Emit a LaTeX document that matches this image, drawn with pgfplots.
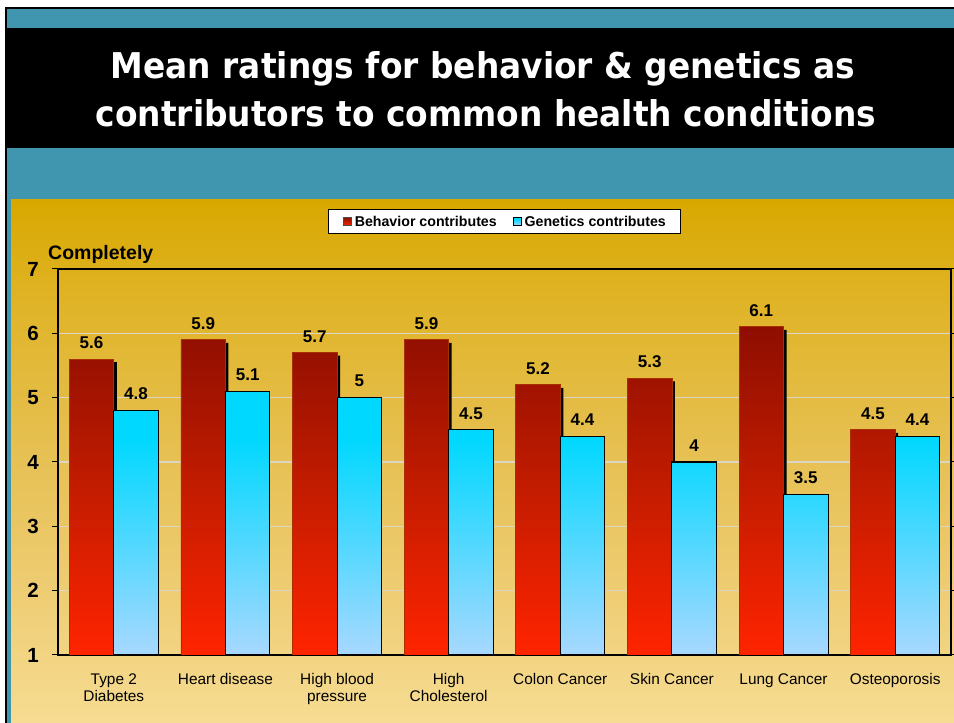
\documentclass[border=0pt]{standalone}
\usepackage{fontspec}
\usepackage{pgfplots}
\pgfplotsset{compat=1.18}
\setmainfont{Liberation Sans}
\newfontfamily\titlefont{DejaVu Sans}[BoldFont={DejaVu Sans Bold}]

\definecolor{slideteal}{HTML}{4196AF}
\definecolor{goldA}{HTML}{D8A800}
\definecolor{goldB}{HTML}{E0B428}
\definecolor{goldC}{HTML}{E6C052}
\definecolor{goldD}{HTML}{EECC72}
\definecolor{goldE}{HTML}{F6DC92}
\definecolor{redTop}{HTML}{8E0E00}
\definecolor{redMid}{HTML}{C41C00}
\definecolor{redBot}{HTML}{FF2400}
\definecolor{redEdge}{HTML}{A83000}
\definecolor{cyTop}{HTML}{00D8FF}
\definecolor{cyBot}{HTML}{A8D8FF}
\definecolor{gridc}{HTML}{DCD4C4}
\definecolor{legred}{HTML}{C82800}
\definecolor{legcy}{HTML}{40D4F8}

% background of the chart area: deep gold fading to pale gold
\pgfdeclareverticalshading{goldbg}{100bp}{%
  color(0bp)=(goldE); color(25bp)=(goldE); color(38bp)=(goldD);
  color(51bp)=(goldC); color(65bp)=(goldB); color(75bp)=(goldA);
  color(100bp)=(goldA)}
% bar fills, bottom (25bp) to top (75bp)
\pgfdeclareverticalshading{redbar}{100bp}{%
  color(0bp)=(redBot); color(25bp)=(redBot); color(50bp)=(redMid);
  color(75bp)=(redTop); color(100bp)=(redTop)}
\pgfdeclareverticalshading{cyanbar}{100bp}{%
  color(0bp)=(cyBot); color(25bp)=(cyBot); color(66bp)=(cyTop);
  color(100bp)=(cyTop)}

\pgfplotstableread{
x  behavior genetics
0  5.6  4.8
1  5.9  5.1
2  5.7  5.0
3  5.9  4.5
4  5.2  4.4
5  5.3  4.0
6  6.1  3.5
7  4.5  4.4
}\ratings

% same top edge for every category label
\newcommand{\lt}{\vphantom{Hd}}

\begin{document}
\begin{tikzpicture}[x=1pt,y=1pt]
\useasboundingbox (0,0) rectangle (954,723);
\fill[white] (0,0) rectangle (954,723);
% slide frame and bands
\fill[black] (5,0) rectangle (954,716);
\fill[slideteal] (7,0) rectangle (954,714);
\fill[black] (7,575) rectangle (954,695);
\shade[shading=goldbg] (11,0) rectangle (954,523);

\tikzset{titleline/.style={text=white, font=\titlefont\bfseries\fontsize{35.5}{48}\selectfont,
      xscale=0.925, transform shape, inner sep=0pt, anchor=base}}
\node[titleline] at (483,644) {Mean ratings for behavior \& genetics as};
\node[titleline] at (486,596) {contributors to common health conditions};

\node[anchor=base west, inner sep=0pt, font=\bfseries\fontsize{19.5}{20}\selectfont]
  at (48,463) {Completely};

\begin{axis}[
  at={(58pt,68pt)}, anchor=south west,
  scale only axis, width=893pt, height=386pt,
  xmin=-0.5, xmax=7.5, ymin=1, ymax=7,
  axis line style={line width=1.3pt, black},
  /pgf/number format/assume math mode=true,
  xtick={0,...,7},
  xticklabels={{\lt Type 2\\Diabetes},{\lt Heart disease},{\lt High blood\\pressure},{\lt High\\Cholesterol},{\lt Colon Cancer},{\lt Skin Cancer},{\lt Lung Cancer},{\lt Osteoporosis}},
  xtick style={draw=none},
  minor xtick={-0.5,0.5,...,7.5},
  minor tick length=5pt,
  major tick length=6pt,
  tick align=outside,
  tick style={black, line width=1pt},
  x tick label style={align=center, inner sep=0pt, anchor=north, yshift=-12pt,
    font=\fontsize{15.4}{17}\selectfont},
  ytick={1,...,7},
  y tick label style={inner sep=0pt, anchor=east, xshift=-13pt,
    font=\bfseries\fontsize{20.5}{21}\selectfont},
  ymajorgrids,
  grid style={gridc, line width=1.3pt},
  ybar=0pt, bar width=44.5pt,
  clip=true,
  legend columns=2,
  legend style={at={(0.5,1)}, anchor=south, yshift=35pt,
    draw=black, line width=0.8pt, fill=white,
    inner xsep=15pt, inner ysep=6pt,
    font=\bfseries\fontsize{14.2}{16}\selectfont,
    nodes={inner sep=0pt},
    /tikz/every odd column/.append style={column sep=3pt},
    /tikz/every even column/.append style={column sep=16pt}},
  nodes near coords,
  every node near coord/.append style={anchor=south, inner sep=0pt, yshift=10pt,
    font=\bfseries\fontsize{17}{17}\selectfont, text=black},
]
% drop shadow behind the behaviour bars
\addplot[forget plot, fill=black, draw=none, bar shift=-19.25pt, yshift=-3pt,
  nodes near coords={}] table[x=x, y=behavior] {\ratings};
\addplot[shading=redbar, draw=redEdge, line width=0.8pt, bar shift=-22.25pt,
  legend image code/.code={\draw[fill=legred, draw=black!70, line width=0.6pt] (0pt,-4pt) rectangle (8pt,4pt);}]
  table[x=x, y=behavior] {\ratings};
\addplot[shading=cyanbar, draw=black, line width=1.1pt, bar shift=22.25pt,
  legend image code/.code={\draw[fill=legcy, draw=black, line width=0.8pt] (0pt,-4pt) rectangle (8pt,4pt);}]
  table[x=x, y=genetics] {\ratings};
\legend{Behavior contributes, Genetics contributes}
\end{axis}
\end{tikzpicture}
\end{document}
